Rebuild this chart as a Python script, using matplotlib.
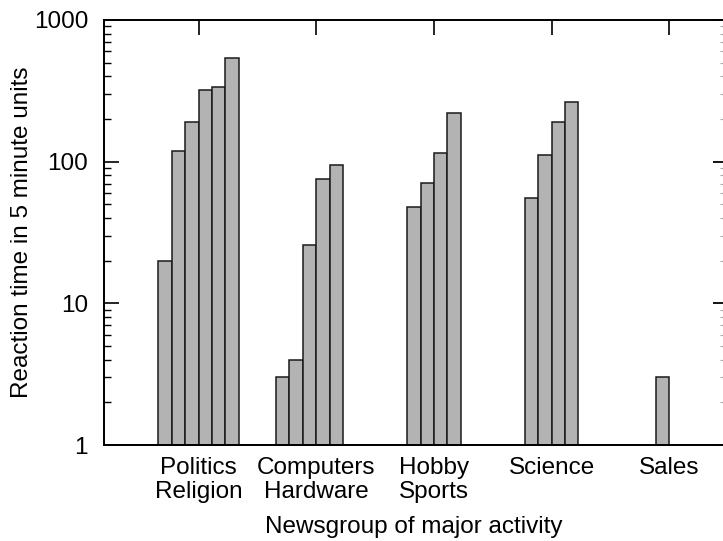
import numpy as np
import matplotlib
matplotlib.use("Agg")
import matplotlib.pyplot as plt

plt.rcParams['font.family'] = ['Liberation Sans', 'DejaVu Sans']

# one row per newsgroup, six columns like a gnuplot clustered histogram (nan = no bar)
nan = np.nan
categories = ["Politics\nReligion", "Computers\nHardware", "Hobby\nSports", "Science", "Sales"]
politics = [20, 118, 191, 320, 336, 542]
computers = [3, 4, 26, 75, 95, nan]
hobby = [nan, 48, 71, 115, 221, nan]
science = [nan, 55, 111, 192, 262, nan]
sales = [nan, nan, 3, nan, nan, nan]

rows = np.array([politics, computers, hobby, science, sales], dtype=float)
groups = np.arange(len(categories))
ncol = rows.shape[1]
w = 0.1138  # bar width in cluster units

fig = plt.figure(figsize=(7.23, 5.41), dpi=100)
ax = fig.add_axes([104 / 723, 96 / 541, 619.5 / 723, 425 / 541])

for k in range(ncol):
    vals = rows[:, k]
    ok = ~np.isnan(vals)
    ax.bar(groups[ok] + (k - (ncol - 1) / 2) * w, vals[ok], width=w,
           color='#b3b3b3', edgecolor='#1a1a1a', linewidth=1.1, zorder=2)

ax.set_yscale('log')
ax.set_ylim(1, 1000)
ax.set_xlim(-0.803, 4.46)
ax.set_yticks([1, 10, 100, 1000], labels=["1", "10", "100", "1000"])

# cluster ticks drawn only on top, names underneath
ax.set_xticks(groups, labels=categories)
ax.tick_params(axis='x', which='major', top=True, bottom=False, direction='in',
               length=11, width=1.2, pad=8.5, labelsize=17.5)
for t in ax.get_xticklabels():
    t.set_linespacing(1.1)

ax.tick_params(axis='y', which='major', direction='in', length=11, width=1.2,
               right=False, pad=11.5, labelsize=17.5)
ax.tick_params(axis='y', which='minor', direction='in', length=5, width=1.0,
               right=False)

ax2 = ax.twinx()
ax2.set_yscale('log')
ax2.set_ylim(1, 1000)
ax2.tick_params(axis='y', which='major', direction='in', length=8, width=1.3,
                labelright=False)
ax2.tick_params(axis='y', which='minor', direction='in', length=3, width=0.8,
                color='#aaaaaa', labelright=False)

for a in (ax, ax2):
    for s in a.spines.values():
        s.set_linewidth(1.3)

ax.set_xlabel("Newsgroup of major activity", fontsize=17.5)
ax.xaxis.set_label_coords(0.5, -0.166)
ax.set_ylabel("Reaction time in 5 minute units", fontsize=17.5)
ax.yaxis.set_label_coords(-0.1146, 0.5)

fig.savefig("out.png", dpi=100)
